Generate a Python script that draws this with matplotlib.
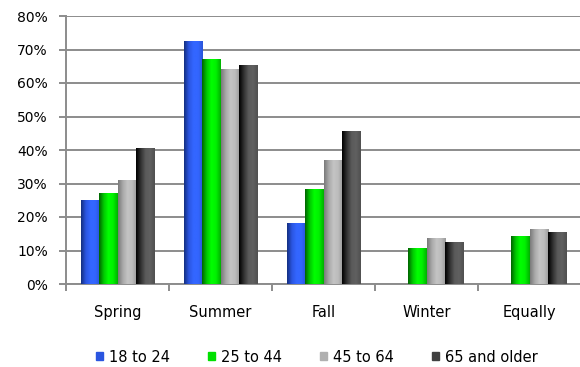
import numpy as np
import matplotlib
matplotlib.use("Agg")
import matplotlib.pyplot as plt
from matplotlib.colors import LinearSegmentedColormap
from matplotlib.patches import Rectangle
from matplotlib.ticker import PercentFormatter

categories = ["Spring", "Summer", "Fall", "Winter", "Equally"]
series_names = ["18 to 24", "25 to 44", "45 to 64", "65 and older"]
v_18_24 = [25.0, 72.5, 18.3, 0.0, 0.0]
v_25_44 = [27.3, 67.1, 28.5, 10.6, 14.2]
v_45_64 = [30.9, 64.1, 36.9, 13.6, 16.5]
v_65 = [40.5, 65.3, 45.6, 12.4, 15.4]
series_values = [v_18_24, v_25_44, v_45_64, v_65]
y_ticks = [0, 10, 20, 30, 40, 50, 60, 70, 80]

# gradient colour stops per series (dark edge -> bright body -> slight dark edge)
grads = [
    ["#142f80", "#2a55e0", "#3366ff", "#3366ff", "#2a55d8"],
    ["#006400", "#00c800", "#00ff00", "#00f000", "#00b000"],
    ["#7a7a7a", "#a8a8a8", "#c4c4c4", "#bcbcbc", "#9a9a9a"],
    ["#000000", "#303030", "#5a5a5a", "#606060", "#505050"],
]
solid = ["#2a55e0", "#00e000", "#b0b0b0", "#404040"]

plt.rcParams['font.family'] = ['DejaVu Sans']

fig = plt.figure(figsize=(5.8, 3.67), dpi=100)
ax = fig.add_axes([66/580, 1-284/367, (581-66)/580, (284-16)/367])

n = len(series_names)
x = np.arange(len(categories))
width = 0.175
grad_img = np.linspace(0, 1, 64).reshape(1, -1)
for i, (vals, g) in enumerate(zip(series_values, grads)):
    offs = (i - (n - 1) / 2) * width
    bars = ax.bar(x + offs, vals, width=width, color=solid[i], linewidth=0, label=series_names[i], zorder=3)
    cmap = LinearSegmentedColormap.from_list(f"g{i}", g)
    for b in bars:
        if b.get_height() <= 0:
            continue
        x0, w, h = b.get_x(), b.get_width(), b.get_height()
        im = ax.imshow(grad_img, cmap=cmap, aspect='auto', extent=[x0, x0 + w, 0, h], zorder=4, interpolation='bilinear')
        im.set_clip_path(b)

ax.set_xlim(-0.5, len(categories) - 0.5)
ax.set_ylim(0, 80)
ax.set_yticks(y_ticks)
ax.yaxis.set_major_formatter(PercentFormatter(decimals=0))
ax.set_xticks(x)
ax.set_xticklabels(categories)
ax.set_xticks(np.arange(len(categories) + 1) - 0.5, minor=True)

ax.grid(axis='y', color='#8c8c8c', linewidth=1.4, zorder=1)
for s in ['top', 'right']:
    ax.spines[s].set_visible(False)
ax.spines['left'].set_color('#8c8c8c')
ax.spines['left'].set_linewidth(1.4)
ax.spines['bottom'].set_color('#8c8c8c')
ax.spines['bottom'].set_linewidth(1.4)
ax.tick_params(axis='y', length=5, width=1.4, color='#8c8c8c', labelsize=10, pad=8, labelcolor='#000000')
ax.tick_params(axis='x', which='major', length=0, labelsize=10.5, pad=15)
ax.tick_params(axis='x', which='minor', length=5, width=1.4, color='#8c8c8c')
ax.set_xlim(-0.5, len(categories) - 0.5)

handles = [Rectangle((0, 0), 1, 1, color=solid[i]) for i in range(n)]
fig.legend(handles, series_names, loc='center', bbox_to_anchor=(317/580, 1-357/367), ncol=4,
           frameon=False, fontsize=10.5, handlelength=0.5, handleheight=0.5, handletextpad=0.4,
           columnspacing=2.6)

fig.savefig("out.png", dpi=100)
